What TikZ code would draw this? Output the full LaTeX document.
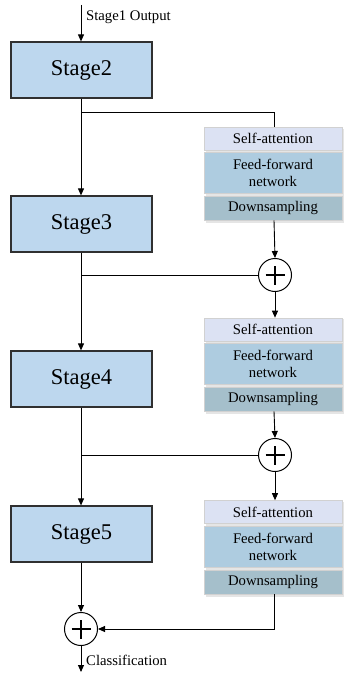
\documentclass[tikz,border=0pt]{standalone}
\usepackage{fontspec}
\setmainfont{Liberation Serif}
\usetikzlibrary{arrows.meta,calc}
\definecolor{stagefill}{HTML}{BDD7EE}
\definecolor{safill}{HTML}{DCE2F3}
\definecolor{fffill}{HTML}{AECCE0}
\definecolor{dsfill}{HTML}{A5BFCB}
\definecolor{stageline}{HTML}{303030}
\tikzset{
  stagebox/.style={draw=stageline, line width=1.2pt, fill=stagefill, minimum width=141pt, minimum height=56pt, inner sep=0pt, font=\fontsize{22.5}{26}\selectfont},
  blk/.style={draw=black!18, line width=0.6pt, minimum width=138pt, inner sep=0pt, align=center, font=\fontsize{14.7}{17}\selectfont},
  sabox/.style={blk, fill=safill, minimum height=23pt},
  ffbox/.style={blk, fill=fffill, minimum height=41pt},
  dsbox/.style={blk, fill=dsfill, minimum height=24pt},
  addnode/.style={circle, draw=black, line width=1pt, fill=white, minimum size=33pt, inner sep=0pt,
    path picture={\draw[line width=1.6pt] ($(path picture bounding box.center)+(-9.5pt,0)$) -- ($(path picture bounding box.center)+(9.5pt,0)$);
                  \draw[line width=1.6pt] ($(path picture bounding box.center)+(0,-9.5pt)$) -- ($(path picture bounding box.center)+(0,9.5pt)$);}},
  conn/.style={line width=0.9pt, draw=black},
  arr/.style={conn, -{Triangle[length=7pt,width=6pt]}},
  lbl/.style={font=\fontsize{14.7}{17}\selectfont, anchor=west, inner sep=0pt},
  shadowbox/.style={fill=black!12, draw=none}
}
\begin{document}
\begin{tikzpicture}[x=1pt,y=-1pt]
\useasboundingbox (0,0) rectangle (343,674);
% stages
\node[stagebox] (s2) at (81.5,70) {Stage2};
\node[stagebox] (s3) at (81.5,224) {Stage3};
\node[stagebox] (s4) at (81.5,379) {Stage4};
\node[stagebox] (s5) at (81.5,534) {Stage5};
% shadows for right blocks
\foreach \ya/\yb in {127/220, 317/411, 500/594}{
  \fill[black!10] (206,\ya+2) rectangle (344,\yb+2.5);
}
% right blocks
\node[sabox] (sa1) at (273,138.5) {Self-attention};
\node[ffbox] (ff1) at (273,172.5) {Feed-forward\\network};
\node[dsbox] (ds1) at (273,208) {Downsampling};
\node[sabox] (sa2) at (273,329.5) {Self-attention};
\node[ffbox] (ff2) at (273,364) {Feed-forward\\network};
\node[dsbox] (ds2) at (273,399) {Downsampling};
\node[sabox] (sa3) at (273,512) {Self-attention};
\node[ffbox] (ff3) at (273,546.5) {Feed-forward\\network};
\node[dsbox] (ds3) at (273,582) {Downsampling};
% adders
\node[addnode] (a1) at (275,275) {};
\node[addnode] (a2) at (275,455) {};
\node[addnode] (a3) at (81,629) {};
% coordinates
\coordinate (top) at (81,5);
\coordinate (b1) at (81,112);
\coordinate (b1r) at (274,112);
\coordinate (b2) at (81,275);
\coordinate (b3) at (81,455);
\coordinate (c3) at (274,629);
\coordinate (bot) at (81,672);
% connectors
\draw[arr] (top) -- (s2.north -| top);
\draw[arr] (s2.south -| b1) -- (s3.north -| b1);
\draw[arr] (s3.south -| b1) -- (s4.north -| b1);
\draw[arr] (s4.south -| b1) -- (s5.north -| b1);
\draw[arr] (s5.south -| b1) -- (a3.north);
\draw[conn] (b1) -- (b1r) -- (sa1.north -| b1r);
\draw[arr] (ds1.south -| b1r) -- (a1.north);
\draw[conn] (b2) -- (a1.west);
\draw[arr] (a1.south) -- (sa2.north -| a1);
\draw[arr] (ds2.south -| b1r) -- (a2.north);
\draw[conn] (b3) -- (a2.west);
\draw[arr] (a2.south) -- (sa3.north -| a2);
\draw[arr] (ds3.south -| c3) -- (c3) -- (a3.east);
\draw[arr] (a3.south) -- (bot);
% labels
\node[lbl] (l1) at (86,17) {Stage1 Output};
\node[lbl] (l2) at (86,660) {Classification};
\end{tikzpicture}
\end{document}
